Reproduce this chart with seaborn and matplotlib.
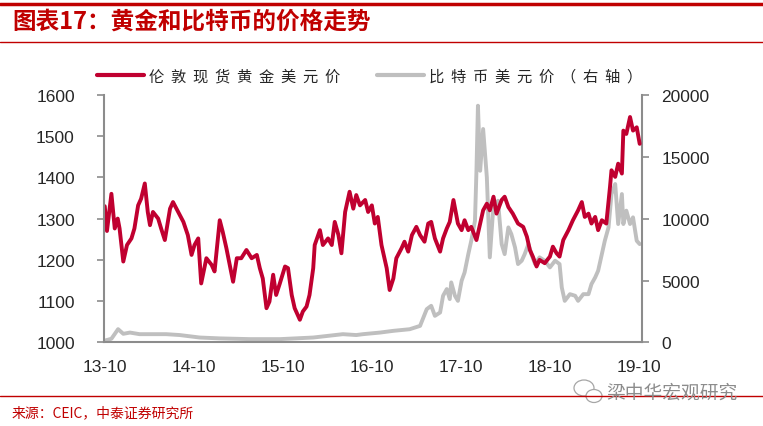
import matplotlib
matplotlib.use('Agg')
import matplotlib.pyplot as plt
from matplotlib.lines import Line2D
from matplotlib.patches import Ellipse
import numpy as np
import pandas as pd
import seaborn as sns

# readings from the picture: months after 2013-10, price
gold_months = [0.0, 0.3, 0.9, 1.35, 1.75, 2.0, 2.5, 3.0, 3.6, 4.0, 4.5, 4.9, 5.4, 5.8, 6.1, 6.5,
               7.2, 7.6, 8.1, 8.8, 9.2, 9.9, 10.6, 11.2, 11.7, 12.1, 12.6, 13.0, 13.7, 14.4,
               14.8, 15.5, 15.9, 16.4, 17.3, 17.8, 18.4, 19.1, 19.8, 20.5, 20.9, 21.3, 21.8,
               22.2, 22.7, 23.1, 23.6, 24.3, 24.7, 25.2, 25.6, 26.3, 26.7, 27.2, 27.6, 28.1,
               28.3, 29.0, 29.4, 30.1, 30.6, 31.0, 31.5, 31.9, 32.4, 33.0, 33.5, 33.9, 34.4,
               35.1, 35.5, 36.0, 36.4, 36.8, 37.3, 38.0, 38.4, 38.9, 39.3, 40.0, 40.4, 40.9,
               41.4, 42.0, 42.5, 43.1, 43.6, 44.0, 44.5, 45.2, 45.6, 46.1, 46.5, 47.0, 47.6,
               48.1, 48.5, 49.0, 49.4, 50.1, 50.6, 51.0, 51.5, 51.9, 52.4, 52.8, 53.5, 53.9,
               54.4, 55.0, 55.7, 56.4, 56.9, 57.3, 57.7, 58.2, 58.6, 59.3, 60.0, 60.4, 60.9,
               61.3, 61.8, 62.5, 63.1, 63.8, 64.3, 64.7, 65.2, 65.6, 66.1, 66.5, 67.0, 67.6,
               68.1, 68.3, 68.8, 69.2, 69.7, 69.9, 70.3, 70.8, 71.2, 71.7, 72.1]
gold_price = [1330, 1270, 1360, 1276, 1300, 1276, 1196, 1236, 1252, 1276, 1332, 1348, 1385, 1316,
              1284, 1316, 1300, 1276, 1248, 1324, 1340, 1316, 1292, 1260, 1212, 1236, 1252, 1143,
              1204, 1188, 1172, 1296, 1268, 1228, 1147, 1204, 1204, 1224, 1204, 1212, 1180, 1155,
              1083, 1099, 1164, 1115, 1143, 1184, 1180, 1115, 1083, 1055, 1075, 1087, 1115, 1180,
              1236, 1272, 1236, 1252, 1236, 1292, 1260, 1216, 1316, 1365, 1324, 1357, 1332, 1345,
              1316, 1332, 1288, 1304, 1236, 1180, 1127, 1155, 1204, 1228, 1244, 1220, 1260, 1280,
              1260, 1244, 1288, 1292, 1252, 1220, 1252, 1276, 1292, 1345, 1288, 1272, 1296, 1272,
              1280, 1248, 1288, 1320, 1336, 1320, 1353, 1312, 1345, 1353, 1328, 1312, 1288, 1280,
              1256, 1224, 1208, 1184, 1200, 1192, 1208, 1232, 1216, 1208, 1248, 1272, 1296, 1320,
              1340, 1304, 1312, 1288, 1304, 1272, 1296, 1288, 1377, 1417, 1401, 1433, 1409, 1513,
              1505, 1546, 1513, 1521, 1481]

btc_months = [0.0, 0.9, 1.8, 2.5, 3.4, 4.7, 8.3, 10.1, 12.8, 15.5, 19.6, 23.6, 28.1, 32.1, 33.9,
              34.8, 37.1, 38.9, 41.1, 42.5, 43.4, 44.0, 44.5, 45.2, 45.6, 46.1, 46.5, 46.7, 47.2,
              47.6, 48.1, 48.5, 49.0, 49.4, 49.9, 50.1, 50.3, 50.6, 51.0, 51.5, 51.7, 51.9, 52.4,
              52.8, 53.0, 53.5, 53.9, 54.4, 54.8, 55.3, 55.7, 56.2, 56.6, 57.1, 57.5, 58.0, 58.6,
              59.3, 60.0, 60.7, 61.3, 61.6, 62.0, 62.7, 63.4, 63.8, 64.5, 65.2, 65.6, 66.1, 66.5,
              67.0, 67.4, 67.9, 68.3, 68.8, 69.2, 69.7, 69.9, 70.3, 70.8, 71.2, 71.7, 72.1]
btc_price = [150, 300, 1075, 700, 800, 670, 670, 600, 400, 330, 270, 270, 400, 670, 600,
             670, 800, 940, 1070, 1340, 2690, 2960, 2150, 2420, 3770, 4310, 3500, 4850, 3770,
             3360, 4980, 5650, 7130, 8210, 9820, 13860, 19110, 13860, 17230, 13330, 10100, 6870, 11170,
             10640, 11440, 7940, 7130, 9290, 8750, 7670, 6330, 6600, 7130, 7940, 7130, 6330, 6870,
             6600, 6060, 6600, 6330, 4440, 3360, 3900, 3770, 3360, 3900, 3900, 4710, 5250, 5790,
             7130, 8210, 9290, 11980, 12790, 9560, 11980, 9560, 10640, 9560, 10100, 8210, 7940]

tick_months = [0, 12, 24, 36, 48, 60, 72]
tick_labels = ['13-10', '14-10', '15-10', '16-10', '17-10', '18-10', '19-10']

gold_name = '伦敦现货黄金美元价'
btc_name = '比特币美元价（右轴）'

RED = '#C00030'
GREY = '#BFBFBF'
AXIS = '#8C8C8C'


def to_dates(months):
    return pd.Timestamp('2013-10-01') + pd.to_timedelta(np.asarray(months) * 30.44, unit='D')


gold_df = pd.DataFrame({'date': to_dates(gold_months), 'price': gold_price})
btc_df = pd.DataFrame({'date': to_dates(btc_months), 'price': btc_price})

sns.set_style('white')
plt.rcParams['font.family'] = ['Liberation Sans', 'Noto Sans CJK SC']

fig = plt.figure(figsize=(7.63, 4.27), dpi=100)
ax = fig.add_axes([0.1363, 0.1956, 0.705, 0.5803])
ax2 = ax.twinx()

sns.lineplot(data=btc_df, x='date', y='price', ax=ax2, color=GREY, lw=2.8)
sns.lineplot(data=gold_df, x='date', y='price', ax=ax, color=RED, lw=2.8)
ax.set_zorder(ax2.get_zorder() + 1)
ax.patch.set_visible(False)

ax.set_ylim(1000, 1600)
ax.set_yticks(range(1000, 1601, 100))
ax2.set_ylim(0, 20000)
ax2.set_yticks(range(0, 20001, 5000))
ax.set_xlim(to_dates([-0.1])[0], to_dates([72.4])[0])
ax.set_xticks(to_dates(tick_months))
ax.set_xticklabels(tick_labels)
for a in (ax, ax2):
    a.set_xlabel('')
    a.set_ylabel('')
    a.spines['top'].set_visible(False)
    a.tick_params(length=5, width=1.2, color=AXIS, labelsize=12.5, direction='out')
ax.tick_params(axis='y', pad=16)
ax.tick_params(axis='x', length=3, pad=9)
ax2.tick_params(axis='y', pad=9)
ax.spines['right'].set_visible(False)
ax2.spines['left'].set_visible(False)
ax2.spines['bottom'].set_visible(False)
for s in ('left', 'bottom'):
    ax.spines[s].set_color(AXIS)
    ax.spines[s].set_linewidth(1.5)
ax2.spines['right'].set_color(AXIS)
ax2.spines['right'].set_linewidth(1.5)

handles = [Line2D([], [], color=RED, lw=3), Line2D([], [], color=GREY, lw=3)]
labels = ['  '.join(gold_name), '  '.join(btc_name)]
fig.legend(handles, labels, loc='center left', bbox_to_anchor=(97 / 763, 1 - 77 / 427),
           ncol=2, frameon=False, borderpad=0, borderaxespad=0, handlelength=3.1,
           handletextpad=0.3, columnspacing=2.4,
           prop={'family': ['Noto Sans CJK SC'], 'size': 11})

# frame lines and texts
fig.add_artist(Line2D([0, 1], [1 - 4.5 / 427] * 2, color='#C00000', lw=2.5, transform=fig.transFigure))
fig.add_artist(Line2D([0, 1], [1 - 42.5 / 427] * 2, color='#C00000', lw=1, transform=fig.transFigure))
fig.add_artist(Line2D([0, 1], [1 - 397 / 427] * 2, color='#C00000', lw=1, transform=fig.transFigure))
fig.text(12 / 763, 1 - 22 / 427, '图表17：黄金和比特币的价格走势', color='#C00000', fontsize=17,
         fontweight='bold', va='center', family=['Noto Sans CJK SC'])
fig.text(12 / 763, 1 - 413 / 427, '来源：CEIC，中泰证券研究所', color='#C00000', fontsize=10,
         va='center', family=['Noto Sans CJK SC'])

# watermark
fig.add_artist(Ellipse((584 / 763, 1 - 389 / 427), 20 / 763, 16 / 427, fill=False,
                       ec='#A6A6A6', lw=0.9, transform=fig.transFigure))
fig.add_artist(Ellipse((594 / 763, 1 - 397 / 427), 16 / 763, 13 / 427, fc='white',
                       ec='#A6A6A6', lw=0.9, transform=fig.transFigure))
fig.text(606 / 763, 1 - 393 / 427, '梁中华宏观研究', color='#8C8C8C', fontsize=13.5,
         va='center', family=['Noto Sans CJK SC'])

fig.savefig('out.png', dpi=100)
